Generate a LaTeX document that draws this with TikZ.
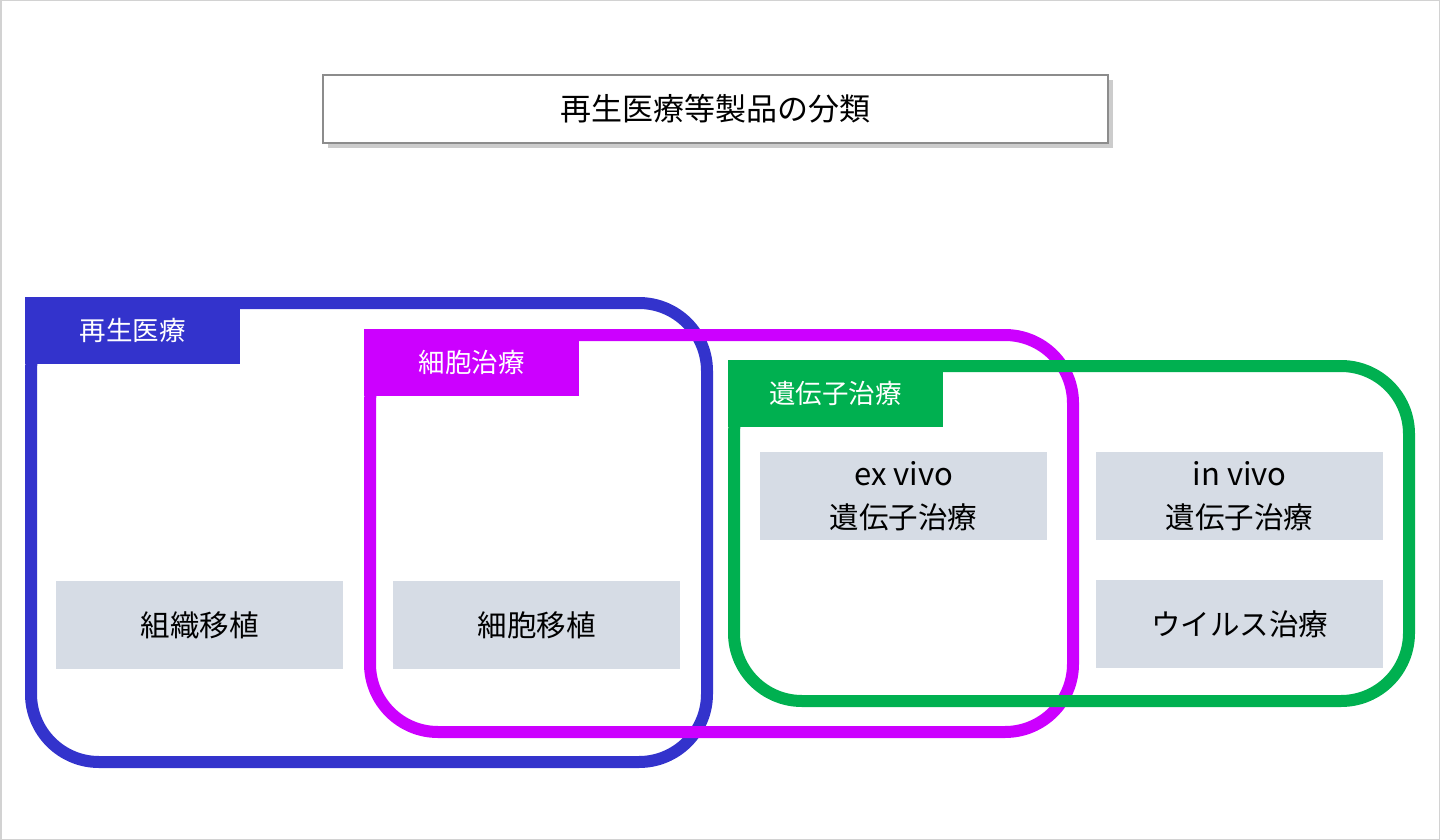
\documentclass[tikz,border=0pt]{standalone}
\usepackage{fontspec}
\setmainfont{Noto Sans CJK JP}
\usepackage{tikz}
\usetikzlibrary{positioning,shadows}
\definecolor{RegenBlue}{HTML}{3333CC}
\definecolor{CellMag}{HTML}{CC00FF}
\definecolor{GeneGreen}{HTML}{00B050}
\definecolor{ItemBG}{HTML}{D6DCE5}
\definecolor{TitleFrame}{HTML}{8C8C8C}
\newcommand{\latinpart}[1]{{\fontsize{31}{43}\selectfont #1}}
\begin{document}
\begin{tikzpicture}[x=1pt, y=-1pt]
  \tikzstyle{groupframe}=[line width=12pt, rounded corners=68pt]
  \tikzstyle{tabbox}=[anchor=north west, minimum width=215pt, minimum height=67pt,
               inner sep=0pt, text=white, font=\fontsize{26.5}{30}\selectfont]
  \tikzstyle{itembox}=[anchor=north west, fill=ItemBG, minimum width=287pt,
               minimum height=88pt, inner sep=0pt, align=center,
               font=\fontsize{29.5}{43}\selectfont]
  \useasboundingbox (0,0) rectangle (1440,840);
  \draw[gray!35, line width=1.5pt] (0.75,0.75) rectangle (1439.25,839.25);
  % title
  \node[draw=TitleFrame, line width=2pt, fill=white, minimum width=785pt, minimum height=68pt,
        drop shadow={shadow xshift=5pt, shadow yshift=-5pt, opacity=0.4},
        font=\fontsize{31}{36}\selectfont] (title) at (715.5,109) {再生医療等製品の分類};
  % regenerative medicine
  \draw[groupframe, RegenBlue] (31,303) rectangle (707,762);
  \node[tabbox, fill=RegenBlue] (regen) at (25,297) {再生医療};
  % cell therapy
  \draw[groupframe, CellMag] (370,335) rectangle (1073,732);
  \node[tabbox, fill=CellMag] (cell) at (364,329) {細胞治療};
  % gene therapy
  \draw[groupframe, GeneGreen] (734,366) rectangle (1409,701);
  \node[tabbox, fill=GeneGreen] (gene) at (728,360) {遺伝子治療};
  % items
  \node[itembox] (tissue) at (56,581) {組織移植};
  \node[itembox] (celltx) at (393,581) {細胞移植};
  \node[itembox] (exvivo) at (760,452) {\latinpart{ex\ vivo}\\遺伝子治療};
  \node[itembox] (invivo) at (1096,452) {\latinpart{in\ vivo}\\遺伝子治療};
  \node[itembox] (virus) at (1096,580) {ウイルス治療};
\end{tikzpicture}
\end{document}
